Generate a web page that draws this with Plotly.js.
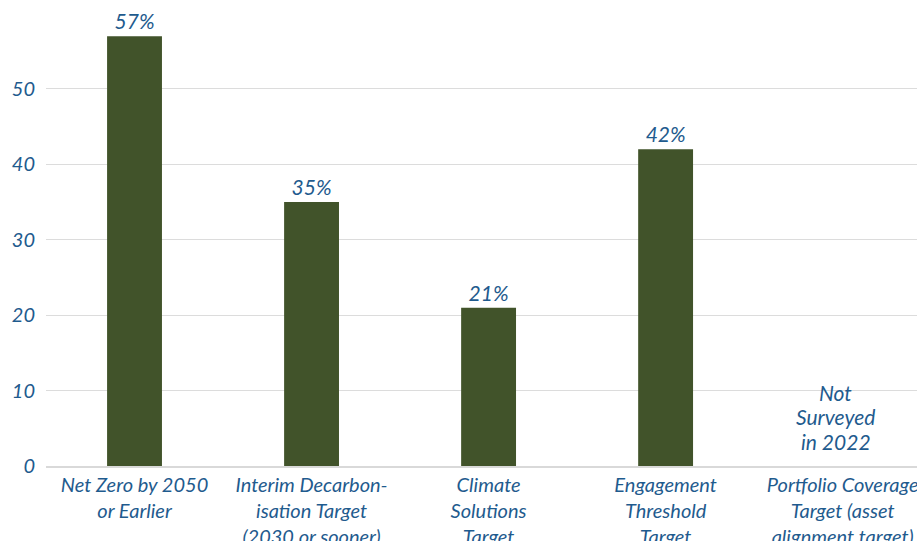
<!DOCTYPE html>
<html>
<head>
<meta charset="utf-8">
<script src="https://cdn.plot.ly/plotly-3.0.1.min.js"></script>
<style>html,body{margin:0;padding:0;background:#fff;}#chart{width:917px;height:541px;}</style>
</head>
<body>
<div id="chart"></div>
<script>
const categories = [
  "Net Zero by 2050<br>or Earlier",
  "Interim Decarbon-<br>isation Target<br>(2030 or sooner)",
  "Climate<br>Solutions<br>Target",
  "Engagement<br>Threshold<br>Target",
  "Portfolio Coverage<br>Target (asset<br>alignment target)"
];
const values = [57, 35, 21, 42, null];
const notSurveyedLines = ["Not", "Surveyed", "in 2022"];
const yTicks = [0, 10, 20, 30, 40, 50];

const blue = "#1f5b8e";
const fontFam = "Lato, 'Open Sans', sans-serif";

const trace = {
  type: "bar",
  x: categories,
  y: values,
  text: values.map(v => v == null ? "" : v + "%"),
  textposition: "outside",
  cliponaxis: false,
  textfont: {family: fontFam, size: 21, color: blue, style: "italic"},
  marker: {color: "#41532a"},
  width: 0.31,
  hoverinfo: "none"
};

const nLines = notSurveyedLines.length;
const annotations = notSurveyedLines.map((t, i) => ({
  x: categories[4], y: 0, xref: "x", yref: "y",
  text: t, showarrow: false,
  yanchor: "middle", yshift: 25 + (nLines - 1 - i) * 24.5, xshift: -7,
  font: {family: fontFam, size: 21, color: blue, style: "italic"}
}));

const layout = {
  width: 917, height: 541,
  margin: {l: 46, r: 0, t: 0, b: 75},
  paper_bgcolor: "#fff", plot_bgcolor: "#fff",
  showlegend: false,
  xaxis: {
    type: "category",
    range: [-0.5, 4.42],
    tickfont: {family: fontFam, size: 20, color: blue, style: "italic"},
    showgrid: false, zeroline: false,
    showline: true, linecolor: "#d9d9d9", linewidth: 1.5,
    ticks: "", ticklen: 0
  },
  yaxis: {
    range: [0, 61.8],
    tickvals: yTicks,
    tickfont: {family: fontFam, size: 20, color: blue, style: "italic"},
    showgrid: true, gridcolor: "#dcdcdc", gridwidth: 1,
    zeroline: false, showline: false,
    ticks: "", ticklabelstandoff: 10
  },
  annotations: annotations
};

Plotly.newPlot("chart", [trace], layout, {displayModeBar: false, staticPlot: true});
</script>
</body>
</html>
